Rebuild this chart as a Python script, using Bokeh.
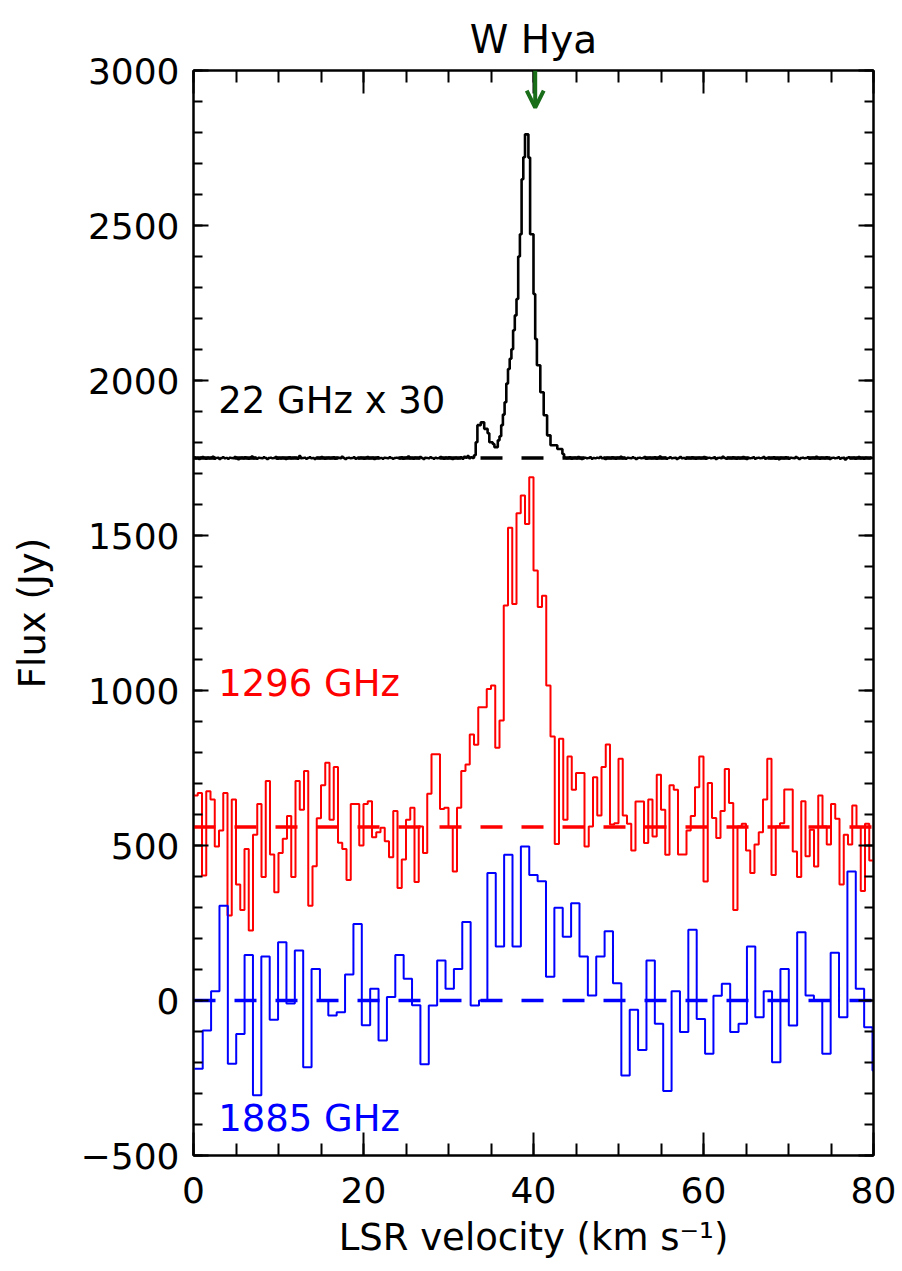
from bokeh.plotting import figure
from bokeh.models import (Range1d, LinearAxis, SingleIntervalTicker, Label,
                          Arrow, OpenHead)
from bokeh.embed import file_html
from bokeh.resources import INLINE

# ---------------------------------------------------------------------------
# Spectra of W Hya
# ---------------------------------------------------------------------------
v_min, v_max = 0, 80
flux_min, flux_max = -500, 3000

# 22 GHz water maser (x 30), 0.2 km/s channels starting at 0 km/s
h2o_v0, h2o_dv = 0.0, 0.2
h2o_base = 1750
h2o_flux = [
    1752, 1749, 1750, 1747, 1751, 1753, 1750, 1748, 1751, 1749, 1750, 1754, 1748, 1750, 1751, 1747, 1750, 1752, 1749, 1750,
    1748, 1751, 1750, 1749, 1753, 1750, 1746, 1750, 1751, 1749, 1752, 1750, 1748, 1750, 1755, 1749, 1750, 1748, 1751, 1750,
    1749, 1752, 1750, 1747, 1750, 1751, 1749, 1750, 1753, 1748, 1750, 1749, 1751, 1750, 1747, 1750, 1752, 1749, 1750, 1751,
    1750, 1748, 1756, 1749, 1750, 1751, 1748, 1750, 1752, 1749, 1750, 1747, 1751, 1750, 1749, 1753, 1750, 1748, 1750, 1751,
    1749, 1750, 1752, 1748, 1750, 1751, 1749, 1754, 1750, 1747, 1750, 1751, 1749, 1750, 1752, 1748, 1750, 1749, 1751, 1750,
    1748, 1750, 1753, 1749, 1750, 1751, 1747, 1750, 1752, 1749, 1750, 1748, 1751, 1750, 1749, 1752, 1750, 1748, 1750, 1751,
    1750, 1749, 1752, 1748, 1750, 1751, 1755, 1749, 1750, 1748, 1751, 1750, 1749, 1753, 1750, 1747, 1751, 1750, 1749, 1752,
    1750, 1748, 1751, 1749, 1750, 1753, 1750, 1748, 1751, 1749, 1752, 1750, 1747, 1750, 1751, 1749, 1750, 1752, 1748, 1754,
    1751, 1756, 1749, 1752, 1750,
    # line profile, 33.0 - 43.6 km/s
    1759, 1801, 1856, 1856, 1865, 1865, 1844, 1844, 1830, 1801,
    1801, 1795, 1785, 1785, 1807, 1820, 1856, 1890, 1930, 1990,
    2037, 2070, 2101, 2162, 2210, 2263, 2400, 2472, 2649, 2720,
    2794, 2794, 2719, 2472, 2472, 2279, 2134, 2049, 2049, 1962,
    1962, 1888, 1888, 1823, 1823, 1791, 1791, 1791, 1791, 1779,
    1779, 1779, 1763,
    1751, 1749, 1750, 1752, 1748, 1750, 1751, 1749, 1753, 1750, 1747, 1750, 1751, 1749, 1750, 1752, 1748, 1750, 1749, 1751,
    1750, 1753, 1749, 1750, 1747, 1751, 1750, 1749, 1752, 1750, 1748, 1751, 1750, 1754, 1749, 1750, 1748, 1751, 1750, 1749,
    1752, 1750, 1747, 1750, 1751, 1749, 1750, 1753, 1748, 1750, 1751, 1749, 1750, 1752, 1748, 1750, 1755, 1749, 1750, 1751,
    1748, 1750, 1752, 1749, 1750, 1751, 1747, 1750, 1753, 1749, 1750, 1748, 1751, 1750, 1749, 1752, 1750, 1748, 1750, 1751,
    1749, 1750, 1753, 1748, 1750, 1751, 1749, 1750, 1752, 1747, 1750, 1751, 1749, 1754, 1750, 1748, 1751, 1750, 1749, 1752,
    1750, 1748, 1751, 1749, 1750, 1753, 1750, 1747, 1751, 1749, 1750, 1752, 1748, 1750, 1751, 1749, 1750, 1753, 1748, 1750,
    1751, 1749, 1750, 1752, 1748, 1750, 1746, 1751, 1750, 1749, 1752, 1750, 1748, 1751, 1750, 1749, 1753, 1750, 1747, 1750,
    1751, 1749, 1750, 1752, 1748, 1750, 1751, 1749, 1754, 1750, 1748, 1751, 1750, 1749, 1752, 1750, 1747, 1750, 1751, 1749,
    1750, 1752, 1748, 1750, 1751, 1745, 1750, 1752, 1749, 1750, 1751, 1748, 1750, 1753, 1749, 1750, 1748, 1751, 1750, 1749,
    1751, 1750,
]

# 1296 GHz, 0.5 km/s channels starting at 0 km/s
f1296_v0, f1296_dv = 0.0, 0.5
f1296_base = 560
f1296_flux = [
    661, 669, 403, 675, 648, 497, 548, 669, 274, 648,
    374, 292, 489, 226, 535, 634, 398, 708, 471, 349,
    476, 522, 595, 398, 708, 615, 740, 306, 433, 588,
    694, 767, 583, 753, 509, 489, 389, 634, 634, 500,
    634, 643, 527, 543, 557, 514, 462, 611, 363, 455,
    583, 622, 382, 561, 476, 667, 794, 794, 618, 622,
    559, 416, 622, 740, 761, 858, 825, 946, 946, 1005,
    1016, 815, 903, 1274, 1525, 1279, 1572, 1629, 1537, 1688,
    1387, 1269, 1306, 1016, 852, 505, 844, 583, 787, 680,
    734, 734, 497, 561, 720, 597, 753, 826, 568, 572,
    780, 597, 570, 484, 642, 642, 508, 648, 529, 728,
    615, 470, 694, 680, 471, 471, 548, 595, 688, 787,
    384, 702, 589, 524, 611, 747, 637, 292, 561, 570,
    484, 411, 503, 543, 648, 780, 405, 561, 572, 681,
    681, 481, 398, 643, 465, 551, 432, 661, 561, 503,
    634, 586, 374, 535, 503, 629, 559, 353, 570, 452,
]

# 1885 GHz, 0.985 km/s channels starting at 0.1 km/s
f1885_v0, f1885_dv = 0.1, 0.985
f1885_base = 0
f1885_flux = [
    -220, -97, 30, 306, -204, -108, 147, -306, 142, -62,
    188, -10, 161, -215, 102, 0, -48, -38, 84, 247,
    -80, 38, -129, 11, 147, 70, -15, -206, -16, 129,
    38, 102, 253, -16, 0, 411, 174, 470, 174, 497,
    405, 385, 77, 299, 206, 314, 142, 16, 142, 223,
    56, -242, -30, -160, 129, -75, -292, 30, -102, 228,
    -60, -172, 15, 54, -102, -75, 174, -54, 30, -199,
    102, -81, 220, 16, 0, -172, 154, -54, 416, 38,
    -86, -226,
]

star_velocity = 40.2          # systemic velocity marker
arrow_tip = 2880

FONT = "DejaVu Sans"
FS = "36px"
LABEL_FS = "37px"
GREEN = "#1a6e1a"


def stair(v0, dv, flux):
    """Channel edges and values for a step (histogram) trace."""
    edges = [v0 + i * dv for i in range(len(flux) + 1)]
    return edges, list(flux) + [flux[-1]]


p = figure(width=902, height=1271,
           x_range=Range1d(v_min, v_max), y_range=Range1d(flux_min, flux_max),
           output_backend="svg", toolbar_location=None,
           min_border_left=193, min_border_right=29,
           min_border_top=70, min_border_bottom=116,
           title="W Hya")
p.grid.visible = False
p.background_fill_color = "white"
p.border_fill_color = "white"
p.outline_line_color = "black"
p.outline_line_width = 2

p.title.text_font = FONT
p.title.text_font_size = "39px"
p.title.text_font_style = "normal"
p.title.text_color = "black"
p.title.align = "center"
p.title.standoff = 18


def style(ax, major, minor):
    ax.axis_line_color = "black"
    ax.axis_line_width = 2
    ax.major_tick_in = major
    ax.major_tick_out = 0
    ax.minor_tick_in = minor
    ax.minor_tick_out = 0
    ax.major_tick_line_width = 2
    ax.minor_tick_line_width = 2
    ax.major_tick_line_color = "black"
    ax.minor_tick_line_color = "black"
    ax.major_label_text_font = FONT
    ax.major_label_text_color = "black"
    ax.axis_label_text_font = FONT
    ax.axis_label_text_font_size = LABEL_FS
    ax.axis_label_text_font_style = "normal"
    ax.axis_label_text_color = "black"
    ax.major_label_text_font_size = FS


xb = p.xaxis[0]
xb.ticker = SingleIntervalTicker(interval=20, num_minor_ticks=4)
style(xb, 23, 12)
xb.axis_label = "LSR velocity (km s\u207b\u00b9)"
xb.major_label_standoff = 21
xb.axis_label_standoff = 10

yl = p.yaxis[0]
yl.ticker = SingleIntervalTicker(interval=500, num_minor_ticks=5)
style(yl, 15, 9)
yl.axis_label = "Flux (Jy)"
yl.major_label_standoff = 14
yl.axis_label_standoff = 24
yl.major_label_overrides = {-500: "\u2212500"}

# mirror axes carrying ticks only
x_ticks = list(range(v_min, v_max + 1, 20))
y_ticks = list(range(flux_min, flux_max + 1, 500))

xt = LinearAxis(ticker=SingleIntervalTicker(interval=20, num_minor_ticks=4))
style(xt, 23, 12)
xt.major_label_text_font_size = "2px"
xt.major_label_standoff = 0
xt.major_label_overrides = {t: "" for t in x_ticks}
p.add_layout(xt, "above")

yr = LinearAxis(ticker=SingleIntervalTicker(interval=500, num_minor_ticks=5))
style(yr, 15, 9)
yr.major_label_text_font_size = "2px"
yr.major_label_standoff = 0
yr.major_label_overrides = {t: "" for t in y_ticks}
p.add_layout(yr, "right")

# spectra
for v0, dv, flux, color, lw in [
    (h2o_v0, h2o_dv, h2o_flux, "black", 2.6),
    (f1296_v0, f1296_dv, f1296_flux, "#ff0000", 2.0),
    (f1885_v0, f1885_dv, f1885_flux, "#0000ff", 2.0),
]:
    xs, ys = stair(v0, dv, flux)
    p.step(xs, ys, mode="after", line_color=color, line_width=lw)

# dashed baselines
for base, color in [(h2o_base, "black"), (f1296_base, "#ff0000"),
                    (f1885_base, "#0000ff")]:
    p.line([v_min, v_max], [base, base], line_color=color, line_width=3.5,
           line_dash="22 19")

# systemic velocity arrow
p.add_layout(Arrow(end=OpenHead(size=17, line_width=4, line_color=GREEN),
                   x_start=star_velocity, y_start=flux_max,
                   x_end=star_velocity, y_end=arrow_tip,
                   line_color=GREEN, line_width=4))

for text, y, color in [("22 GHz x 30", 1935, "black"),
                       ("1296 GHz", 1023, "#ff0000"),
                       ("1885 GHz", -381, "#0000ff")]:
    p.add_layout(Label(x=2.9, y=y, text=text, text_font=FONT,
                       text_font_size=LABEL_FS, text_color=color,
                       text_align="left", text_baseline="middle"))

open("out.html", "w").write(file_html(p, INLINE))
